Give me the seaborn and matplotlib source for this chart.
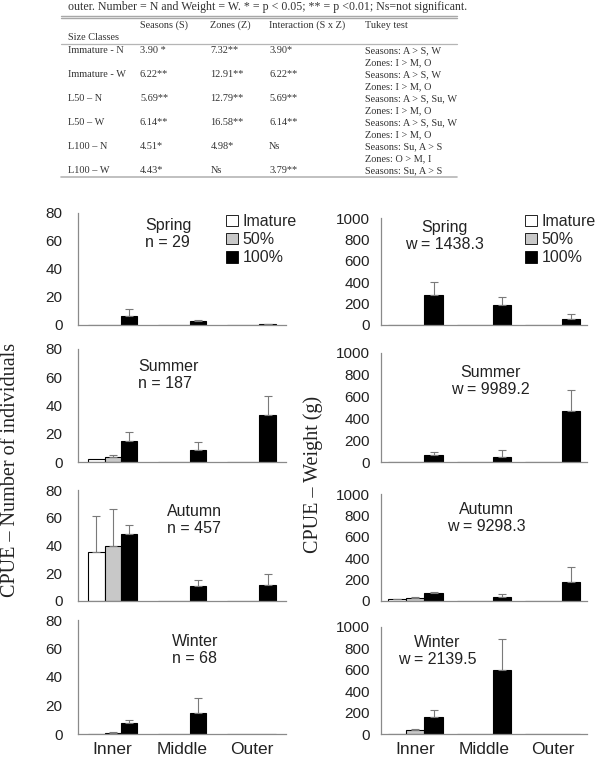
import matplotlib
matplotlib.use("Agg")
import matplotlib.pyplot as plt
import seaborn as sns
import pandas as pd
from matplotlib.patches import Patch
from matplotlib.lines import Line2D

# ---- data -------------------------------------------------------------
zones = ["Inner", "Middle", "Outer"]
classes = ["Imature", "50%", "100%"]
seasons = ["Spring", "Summer", "Autumn", "Winter"]
totals_n = ["29", "187", "457", "68"]
totals_w = ["1438.3", "9989.2", "9298.3", "2139.5"]

# CPUE number: rows = Imature, 50%, 100% ; columns = Inner, Middle, Outer
spring_n = [[0, 0, 0], [0, 0, 0], [6.7, 3.1, 0.5]]
spring_n_err = [[0, 0, 0], [0, 0, 0], [4.5, 0.7, 0.5]]
summer_n = [[1.9, 0, 0], [3.3, 0, 0], [15.1, 8.3, 33.6]]
summer_n_err = [[0, 0, 0], [1.7, 0, 0], [5.9, 6.1, 13.0]]
autumn_n = [[35.4, 0.2, 0.2], [40.0, 0.2, 0.2], [48.4, 10.6, 11.3]]
autumn_n_err = [[25.6, 0, 0], [26.0, 0, 0], [6.6, 4.8, 8.0]]
winter_n = [[0, 0, 0], [1.0, 0.3, 0.3], [7.8, 15.0, 0.3]]
winter_n_err = [[0, 0, 0], [0.3, 0, 0], [2.2, 10.2, 0]]

# CPUE weight (g)
spring_w = [[0, 0, 0], [0, 0, 0], [280, 183, 56]]
spring_w_err = [[0, 0, 0], [0, 0, 0], [124, 75, 46]]
summer_w = [[4, 4, 4], [4, 4, 4], [68, 43, 468]]
summer_w_err = [[0, 0, 0], [0, 0, 0], [24, 65, 194]]
autumn_w = [[16, 3, 3], [31, 3, 3], [72, 40, 178]]
autumn_w_err = [[6, 0, 0], [9, 0, 0], [9, 28, 140]]
winter_w = [[0, 0, 0], [37, 3, 3], [158, 595, 3]]
winter_w_err = [[0, 0, 0], [10, 0, 0], [63, 293, 0]]

num_means = [spring_n, summer_n, autumn_n, winter_n]
num_errs = [spring_n_err, summer_n_err, autumn_n_err, winter_n_err]
wt_means = [spring_w, summer_w, autumn_w, winter_w]
wt_errs = [spring_w_err, summer_w_err, autumn_w_err, winter_w_err]

# ANOVA table
table_header = ["Seasons (S)", "Zones (Z)", "Interaction (S x Z)", "Tukey test"]
size_classes = ["Immature - N", "Immature - W", "L50 \u2013 N", "L50 \u2013 W", "L100 \u2013 N", "L100 \u2013 W"]
f_seasons = ["3.90 *", "6.22**", "5.69**", "6.14**", "4.51*", "4.43*"]
f_zones = ["7.32**", "12.91**", "12.79**", "16.58**", "4.98*", "Ns"]
f_inter = ["3.90*", "6.22**", "5.69**", "6.14**", "Ns", "3.79**"]
tukey_seasons = ["Seasons: A > S, W", "Seasons: A > S, W", "Seasons: A > S, Su, W",
                 "Seasons: A > S, Su, W", "Seasons: Su, A > S", "Seasons: Su, A > S"]
tukey_zones = ["Zones: I > M, O", "Zones: I > M, O", "Zones: I > M, O",
               "Zones: I > M, O", "Zones: O > M, I", ""]
caption = "outer. Number = N and Weight = W. * = p < 0.05; ** = p <0.01; Ns=not significant."

# ---- style ------------------------------------------------------------
sns.set_style("white")
plt.rcParams["font.family"] = ["Liberation Sans", "DejaVu Sans"]
palette = ["#ffffff", "#c8c8c8", "#000000"]
axis_grey = "#8a8a8a"
serif = ["Liberation Serif", "DejaVu Serif"]

W, H = 596, 763
fig = plt.figure(figsize=(W / 100, H / 100), dpi=100)


def fx(x):
    return x / W


def fy(y):
    return 1 - y / H


# ---- table ------------------------------------------------------------
tcol = "#333333"
fig.text(fx(68), fy(10), caption, family=serif, fontsize=8.6, color=tcol, va="baseline")
for yy in (15.5, 18):
    fig.add_artist(Line2D([fx(61), fx(457)], [fy(yy), fy(yy)], color="#a8a8a8", lw=1.0))
fig.add_artist(Line2D([fx(61), fx(457)], [fy(43.5), fy(43.5)], color="#b5b5b5", lw=0.9))
fig.add_artist(Line2D([fx(61), fx(457)], [fy(176.5), fy(176.5)], color="#b5b5b5", lw=1.2))

col_x = [68, 140, 210.5, 269, 365]
for cx, txt in zip(col_x[1:], table_header):
    fig.text(fx(cx), fy(25.5), txt, family=serif, fontsize=7.4, color=tcol, va="center")
fig.text(fx(col_x[0]), fy(37.5), "Size Classes", family=serif, fontsize=7.4, color=tcol, va="center")
for i in range(len(size_classes)):
    y1 = 50.3 + 24.1 * i
    row = [size_classes[i], f_seasons[i], f_zones[i], f_inter[i], tukey_seasons[i]]
    for cx, txt in zip(col_x, row):
        fig.text(fx(cx), fy(y1), txt, family=serif, fontsize=7.4, color=tcol, va="center")
    if tukey_zones[i]:
        fig.text(fx(col_x[4]), fy(y1 + 12), tukey_zones[i], family=serif, fontsize=7.4,
                 color=tcol, va="center")

# ---- bar panels -------------------------------------------------------
left_rows = [(213, 325), (349, 462), (490, 601), (620, 734)]
right_rows = [(218, 325), (353, 462), (494, 601), (627, 734)]
left_text = [(145, 218), (138, 359), (167, 504), (172, 634)]      # left aligned
right_text = [(444, 220), (490, 365), (486, 502), (437, 635)]     # centred


def panel(ax, means, errs, ymax, step, width, last):
    df = pd.DataFrame({
        "zone": [z for c in classes for z in zones],
        "cls": [c for c in classes for z in zones],
        "value": [v for row in means for v in row],
    })
    sns.barplot(data=df, x="zone", y="value", hue="cls", order=zones, hue_order=classes,
                palette=palette, edgecolor="black", linewidth=0.8, width=width,
                errorbar=None, legend=False, ax=ax)
    bar_sets = list(ax.containers)
    for k, cont in enumerate(bar_sets):
        for j, bar in enumerate(cont):
            e = errs[k][j]
            if e > 0:
                xc = bar.get_x() + bar.get_width() / 2
                ax.errorbar(xc, bar.get_height(), yerr=[[0], [e]], color="#7a7a7a",
                            lw=0.8, capsize=3, capthick=0.8, zorder=1)
    ax.set_xlim(-0.5, 2.5)
    ax.set_ylim(0, ymax)
    ax.set_yticks(range(0, ymax + 1, step))
    ax.set_xticks([0.5, 1.5, 2.5], minor=True)
    ax.tick_params(axis="x", which="minor", length=4, width=0.8, color=axis_grey, direction="out")
    ax.tick_params(axis="x", which="major", length=0, labelsize=12.5, pad=6, colors="#222222")
    ax.tick_params(axis="y", length=3, width=0.8, color=axis_grey, labelsize=11,
                   labelcolor="#222222", pad=8)
    if not last:
        ax.set_xticklabels([])
    ax.set_xlabel("")
    ax.set_ylabel("")
    sns.despine(ax=ax)
    for s in ("left", "bottom"):
        ax.spines[s].set_color(axis_grey)
        ax.spines[s].set_linewidth(0.9)
    ax.patch.set_alpha(0)


handles = [Patch(facecolor=c, edgecolor="black", linewidth=0.6) for c in palette]

for i in range(4):
    t, b = left_rows[i]
    axl = fig.add_axes([fx(78), fy(b), fx(286) - fx(78), (b - t) / H])
    panel(axl, num_means[i], num_errs[i], 80, 20, 0.7, i == 3)
    tx, ty = left_text[i]
    fig.text(fx(tx), fy(ty), seasons[i] + "\nn = " + totals_n[i], fontsize=11.5,
             va="top", ha="left", linespacing=1.15, color="#222222")

    t, b = right_rows[i]
    axr = fig.add_axes([fx(381), fy(b), fx(587) - fx(381), (b - t) / H])
    panel(axr, wt_means[i], wt_errs[i], 1000, 200, 0.8, i == 3)
    axr.tick_params(axis="y", pad=5)
    tx, ty = right_text[i]
    fig.text(fx(tx), fy(ty), seasons[i] + "\nw = " + totals_w[i], fontsize=11.5,
             va="top", ha="center", linespacing=1.15, color="#222222")

    if i == 0:
        for ax, lx in ((axl, 226), (axr, 525)):
            ax.legend(handles, classes, loc="upper left", bbox_to_anchor=(fx(lx), fy(214)),
                      bbox_transform=fig.transFigure, frameon=False, fontsize=11.5,
                      handlelength=0.75, handleheight=0.75, handletextpad=0.3,
                      labelspacing=0.2, borderpad=0, borderaxespad=0)

fig.text(fx(11), fy(470), "CPUE \u2013 Number of individuals", family=serif, fontsize=14.5,
         rotation=90, ha="center", va="center", color="#222222")
fig.text(fx(313), fy(474), "CPUE \u2013 Weight (g)", family=serif, fontsize=14.5,
         rotation=90, ha="center", va="center", color="#222222")

fig.savefig("out.png", dpi=100, facecolor="white")
